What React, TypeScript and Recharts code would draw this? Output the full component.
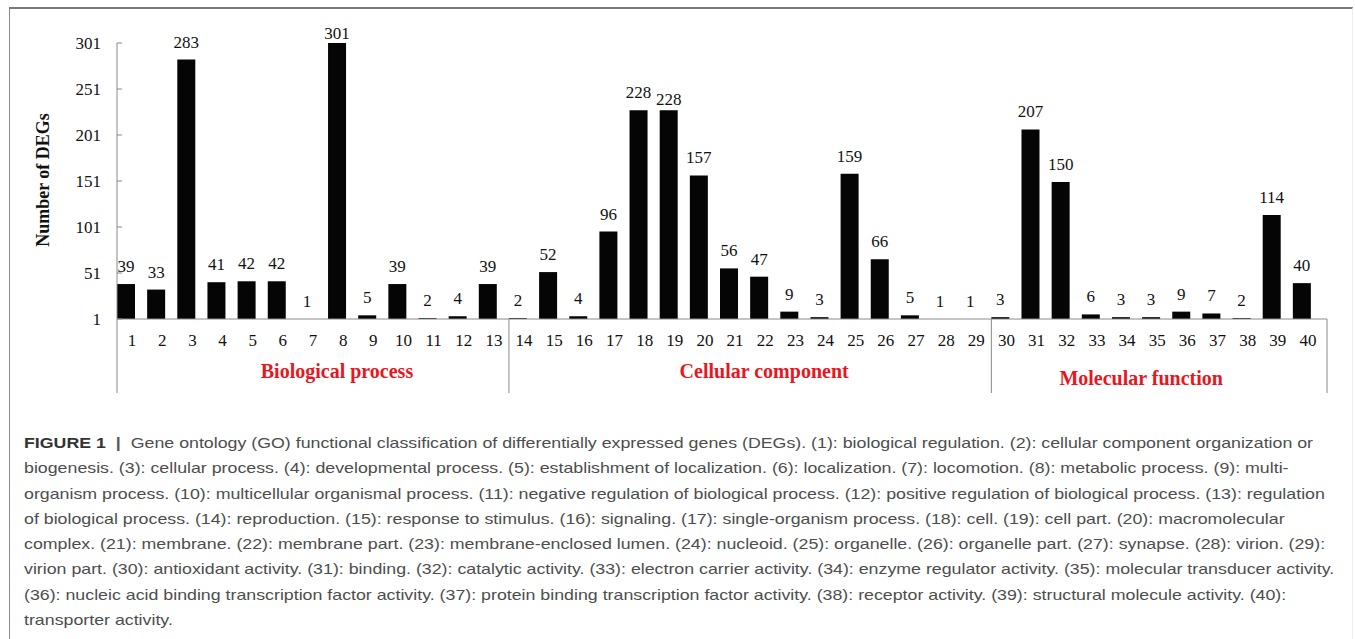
import { BarChart, Bar, XAxis, YAxis, LabelList, Rectangle } from 'recharts';

const categories = [
  '1', '2', '3', '4', '5', '6', '7', '8', '9', '10',
  '11', '12', '13', '14', '15', '16', '17', '18', '19', '20',
  '21', '22', '23', '24', '25', '26', '27', '28', '29', '30',
  '31', '32', '33', '34', '35', '36', '37', '38', '39', '40',
];

const counts = [
  39, 33, 283, 41, 42, 42, 1, 301, 5, 39, 2, 4, 39,
  2, 52, 4, 96, 228, 228, 157, 56, 47, 9, 3, 159, 66, 5, 1, 1,
  3, 207, 150, 6, 3, 3, 9, 7, 2, 114, 40,
];

const yTicks = [1, 51, 101, 151, 201, 251, 301];

const groups = [
  { name: 'Biological process', first: 0, last: 12 },
  { name: 'Cellular component', first: 13, last: 28 },
  { name: 'Molecular function', first: 29, last: 39 },
];

const captionLines = [
  'Gene ontology (GO) functional classification of differentially expressed genes (DEGs). (1): biological regulation. (2): cellular component organization or',
  'biogenesis. (3): cellular process. (4): developmental process. (5): establishment of localization. (6): localization. (7): locomotion. (8): metabolic process. (9): multi-',
  'organism process. (10): multicellular organismal process. (11): negative regulation of biological process. (12): positive regulation of biological process. (13): regulation',
  'of biological process. (14): reproduction. (15): response to stimulus. (16): signaling. (17): single-organism process. (18): cell. (19): cell part. (20): macromolecular',
  'complex. (21): membrane. (22): membrane part. (23): membrane-enclosed lumen. (24): nucleoid. (25): organelle. (26): organelle part. (27): synapse. (28): virion. (29):',
  'virion part. (30): antioxidant activity. (31): binding. (32): catalytic activity. (33): electron carrier activity. (34): enzyme regulator activity. (35): molecular transducer activity.',
  '(36): nucleic acid binding transcription factor activity. (37): protein binding transcription factor activity. (38): receptor activity. (39): structural molecule activity. (40):',
  'transporter activity.',
];

const data = categories.map((c, i) => ({ cat: c, count: counts[i] }));

const W = 1355;
const H = 400;
const LEFT = 117;
const RIGHT_M = 32;
const BAND = (W - RIGHT_M - LEFT) / categories.length;
const BASE_Y = 319;
const SEP_BOTTOM = 393;
const BAR_SHIFT = -6;
const SERIF = '"Liberation Serif", "Times New Roman", serif';
const RED = '#e8161e';
const AXIS = '#8a8a8a';
// excel-ish placement of the group titles
const GROUP_NUDGE = [
  { dx: 24, y: 378 },
  { dx: 14, y: 378 },
  { dx: -16, y: 385 },
];
// labels excel pushed down (plot top / overlap)
const LABEL_DROP: Record<number, number> = { 7: 8, 18: 7 };

const XTick = (props: any) => {
  const { x, y, index, payload } = props;
  const out: any[] = [];
  out.push(
    <text key="t" x={x} y={y + 27} textAnchor="middle" fontFamily={SERIF} fontSize={17} fill="#111">
      {payload.value}
    </text>
  );
  groups.forEach((g, gi) => {
    if (g.first === index) {
      const lx = x - BAND / 2;
      out.push(<line key={'s' + gi} x1={lx} x2={lx} y1={BASE_Y} y2={SEP_BOTTOM} stroke={AXIS} strokeWidth={1} />);
      const mid = x - BAND / 2 + ((g.last - g.first + 1) * BAND) / 2 + GROUP_NUDGE[gi].dx;
      out.push(
        <text key={'g' + gi} x={mid} y={GROUP_NUDGE[gi].y} textAnchor="middle" fontFamily={SERIF} fontSize={20} fontWeight="bold" fill={RED}>
          {g.name}
        </text>
      );
    }
    if (g.last === index && gi === groups.length - 1) {
      const rx = x + BAND / 2 + 4;
      out.push(<line key="r" x1={rx} x2={rx} y1={BASE_Y} y2={SEP_BOTTOM} stroke={AXIS} strokeWidth={1} />);
      out.push(<line key="rb" x1={x + BAND / 2} x2={rx} y1={BASE_Y} y2={BASE_Y} stroke={AXIS} strokeWidth={1} />);
    }
  });
  return <g>{out}</g>;
};

const YTick = (props: any) => {
  const { x, y, payload } = props;
  return (
    <g>
      <line x1={x} x2={x + 5} y1={y} y2={y} stroke={AXIS} strokeWidth={1} />
      <text x={x - 16} y={y + 6} textAnchor="end" fontFamily={SERIF} fontSize={17} fill="#111">
        {payload.value}
      </text>
    </g>
  );
};

const ShiftedBar = (props: any) => <Rectangle {...props} x={props.x + BAR_SHIFT} />;

const TopLabel = (props: any) => {
  const { x, y, width, value, index } = props;
  const drop = LABEL_DROP[index] || 0;
  return (
    <text x={x + width / 2 + BAR_SHIFT} y={y - 12 + drop} textAnchor="middle" fontFamily={SERIF} fontSize={17} fill="#111">
      {value}
    </text>
  );
};

export default function App() {
  return (
    <div style={{ position: 'relative', width: W, height: 639, background: '#fff', overflow: 'hidden' }}>
      <style>{'body{margin:0}'}</style>
      <div
        style={{
          position: 'absolute',
          left: 9,
          top: 7,
          width: 1344,
          height: 640,
          borderTop: '2px solid #7a7a7a',
          borderLeft: '1px solid #8a8a8a',
          borderRight: '1px solid #eeeeee',
          boxSizing: 'border-box',
        }}
      />
      <div style={{ position: 'absolute', left: 0, top: 0 }}>
        <BarChart width={W} height={H} data={data} margin={{ top: 43, right: RIGHT_M, left: 0, bottom: 21 }}>
          <XAxis
            dataKey="cat"
            interval={0}
            height={60}
            tickSize={0}
            tickMargin={0}
            tickLine={false}
            axisLine={{ stroke: AXIS, strokeWidth: 1 }}
            tick={<XTick />}
          />
          <YAxis
            width={LEFT}
            domain={[1, 301]}
            ticks={yTicks}
            interval={0}
            tickSize={0}
            tickMargin={0}
            tickLine={false}
            axisLine={{ stroke: AXIS, strokeWidth: 1 }}
            tick={<YTick />}
          />
          <Bar dataKey="count" fill="#050505" barSize={18} isAnimationActive={false} shape={<ShiftedBar />}>
            <LabelList dataKey="count" content={<TopLabel />} />
          </Bar>
        </BarChart>
      </div>
      <div
        style={{
          position: 'absolute',
          left: 43,
          top: 180,
          transform: 'translate(-50%, -50%) rotate(-90deg)',
          fontFamily: SERIF,
          fontWeight: 'bold',
          fontSize: 18,
          whiteSpace: 'nowrap',
          color: '#111',
        }}
      >
        Number of DEGs
      </div>
      <div
        style={{
          position: 'absolute',
          left: 24,
          top: 430,
          fontFamily: '"Liberation Sans", Arial, sans-serif',
          fontSize: 15,
          lineHeight: '25.3px',
          color: '#4d4d4d',
          transform: 'scaleX(1.185)',
          transformOrigin: 'left top',
        }}
      >
        {captionLines.map((line, i) => (
          <div key={i} style={{ whiteSpace: 'nowrap' }}>
            {i === 0 ? (
              <>
                <span style={{ fontWeight: 'bold', color: '#333' }}>FIGURE 1</span>
                <span style={{ fontWeight: 'bold', color: '#555' }}>{'\u00a0\u00a0|\u00a0\u00a0'}</span>
              </>
            ) : null}
            {line}
          </div>
        ))}
      </div>
    </div>
  );
}
